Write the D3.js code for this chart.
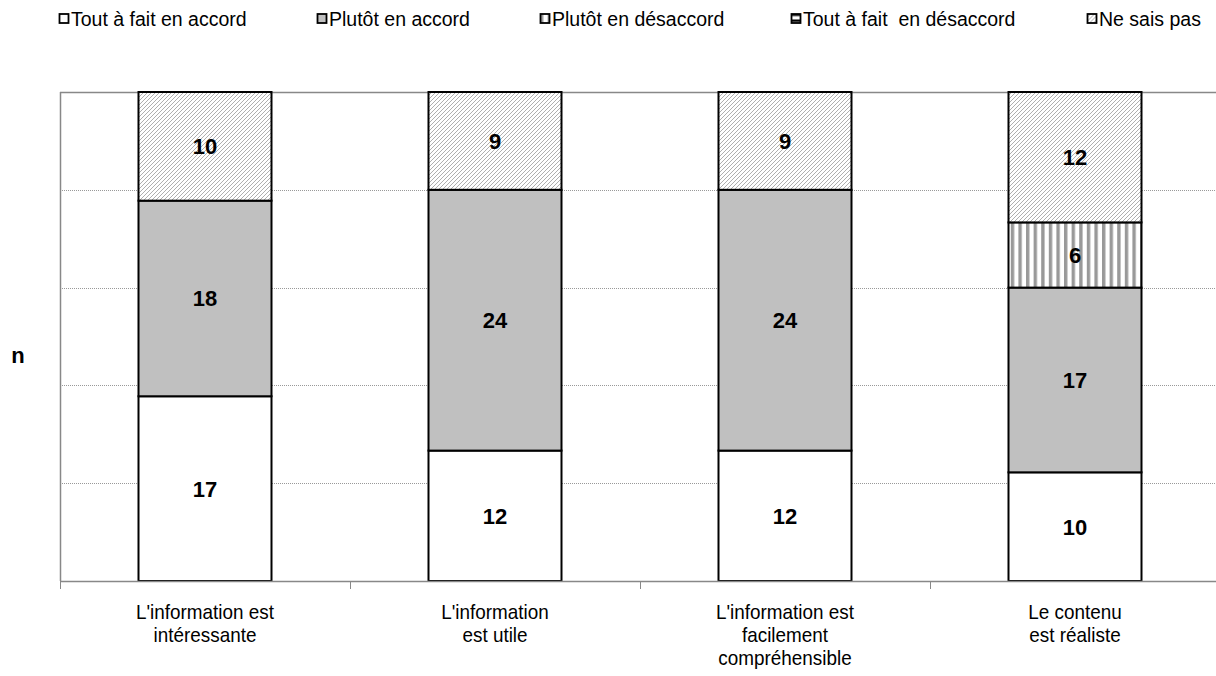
<!DOCTYPE html>
<html><head><meta charset="utf-8">
<script src="https://cdn.jsdelivr.net/npm/d3@7"></script>
<style>
html,body{margin:0;padding:0;background:#fff;}
svg{display:block;font-family:"Liberation Sans",Arial,sans-serif;}
.leg text{white-space:pre;}
</style></head>
<body><svg id="c" width="1216" height="676"></svg>
<script>
const categories = [
  ["L'information est","intéressante"],
  ["L'information","est utile"],
  ["L'information est","facilement","compréhensible"],
  ["Le contenu","est réaliste"]
];
const seriesNames = ["Tout à fait en accord","Plutôt en accord","Plutôt en désaccord","Tout à fait  en désaccord","Ne sais pas"];
const toutAccord = [17,12,12,10];
const plutotAccord = [18,24,24,17];
const plutotDesaccord = [0,0,0,6];
const toutDesaccord = [0,0,0,0];
const neSaisPas = [10,9,9,12];
const yTicks = [0,9,18,27,36,45];

const svg = d3.select("#c");
const defs = svg.append("defs");
const pV = defs.append("pattern").attr("id","pV").attr("patternUnits","userSpaceOnUse").attr("width",7.6).attr("height",10);
pV.append("rect").attr("width",7.6).attr("height",10).attr("fill","#fff");
pV.append("rect").attr("x",0).attr("width",3.4).attr("height",10).attr("fill","#999");
const pH = defs.append("pattern").attr("id","pH").attr("patternUnits","userSpaceOnUse").attr("width",10).attr("height",6);
pH.append("rect").attr("width",10).attr("height",6).attr("fill","#fff");
pH.append("rect").attr("y",0).attr("width",10).attr("height",2.5).attr("fill","#000");
const pD = defs.append("pattern").attr("id","pD").attr("patternUnits","userSpaceOnUse").attr("width",4).attr("height",4);
pD.append("rect").attr("width",4).attr("height",4).attr("fill","#fff");
pD.append("path").attr("d","M-1,1 L1,-1 M0,4 L4,0 M3,5 L5,3").attr("stroke","#a0a0a0").attr("stroke-width",0.85);
const fills = ["#ffffff","#c0c0c0","url(#pV)","url(#pH)","url(#pD)"];

const seriesData = [toutAccord, plutotAccord, plutotDesaccord, toutDesaccord, neSaisPas];
const rows = categories.map((c,i)=>{
  const o = {key:i};
  seriesNames.forEach((s,j)=>o[s]=seriesData[j][i]);
  return o;
});
const stack = d3.stack().keys(seriesNames)(rows);

const x0 = 60, x1 = 1220, yTop = 92, yBot = 581;
const x = d3.scaleBand().domain(d3.range(categories.length)).range([x0,x1]).paddingInner(0.5414).paddingOuter(0.2707);
const xb = d3.scaleBand().domain(d3.range(categories.length)).range([x0,x1]).padding(0);
const y = d3.scaleLinear().domain([0,45]).range([yBot,yTop]);

const g = svg.append("g");
g.selectAll("line.grid").data(yTicks.filter(t=>t>0)).join("line")
  .attr("x1",x0).attr("x2",1216).attr("y1",d=>Math.round(y(d))+0.5).attr("y2",d=>Math.round(y(d))+0.5)
  .attr("stroke",d=>d===45?"#888":"#999")
  .attr("stroke-width",d=>d===45?1.5:1)
  .attr("stroke-dasharray",d=>d===45?null:"1,1");

const layers = svg.append("g").selectAll("g").data(stack).join("g").attr("fill",(d,i)=>fills[i]);
layers.selectAll("rect").data(d=>d.filter(s=>s[1]-s[0]>0)).join("rect")
  .attr("x",d=>x(d.data.key)).attr("width",x.bandwidth())
  .attr("y",d=>y(d[1])).attr("height",d=>y(d[0])-y(d[1]))
  .attr("stroke","#000").attr("stroke-width",2);

svg.append("g").selectAll("g").data(stack).join("g").selectAll("text")
  .data(d=>d.filter(s=>s[1]-s[0]>0)).join("text")
  .attr("x",d=>x(d.data.key)+x.bandwidth()/2)
  .attr("y",d=>(y(d[0])+y(d[1]))/2)
  .attr("dy","0.36em").attr("text-anchor","middle")
  .attr("font-weight","bold").attr("font-size",22).attr("fill","#000")
  .text(d=>d[1]-d[0]);

svg.append("line").attr("x1",x0+0.5).attr("x2",x0+0.5).attr("y1",yTop).attr("y2",yBot)
  .attr("stroke","#888").attr("stroke-width",1.5);
const xa = d3.axisBottom(xb).tickSize(0).tickFormat("");
const xaG = svg.append("g").attr("transform",`translate(0,${yBot})`).call(xa);
xaG.select(".domain").attr("stroke","#888").attr("stroke-width",1.5);
xaG.selectAll(".tick").remove();
svg.append("g").selectAll("line").data(d3.range(categories.length)).join("line")
  .attr("x1",d=>xb(d)+0.5).attr("x2",d=>xb(d)+0.5).attr("y1",yBot).attr("y2",yBot+8)
  .attr("stroke","#888").attr("stroke-width",1);

svg.append("g").selectAll("text").data(categories).join("text")
  .attr("text-anchor","middle").attr("font-size",21).attr("fill","#000")
  .attr("transform",(d,i)=>`translate(${xb(i)+xb.bandwidth()/2},618.5) scale(0.9,1)`)
  .selectAll("tspan").data(d=>d).join("tspan")
  .attr("x",0).attr("dy",(d,i)=>i===0?0:23.5).text(d=>d);

svg.append("text").attr("x",18).attr("y",363).attr("text-anchor","middle")
  .attr("font-weight","bold").attr("font-size",22).text("n");

const legX = [59,317,540,791,1087];
const leg = svg.append("g").attr("class","leg").selectAll("g").data(seriesNames).join("g")
  .attr("transform",(d,i)=>`translate(${legX[i]},13.5)`);
leg.append("rect").attr("width",9).attr("height",9).attr("x",0.5).attr("y",0.5)
  .attr("fill",(d,i)=>fills[i]).attr("stroke","#000").attr("stroke-width",1.8);
leg.append("text").attr("x",12).attr("y",5).attr("dy","0.36em").attr("font-size",19.5).text(d=>d);
</script></body></html>
